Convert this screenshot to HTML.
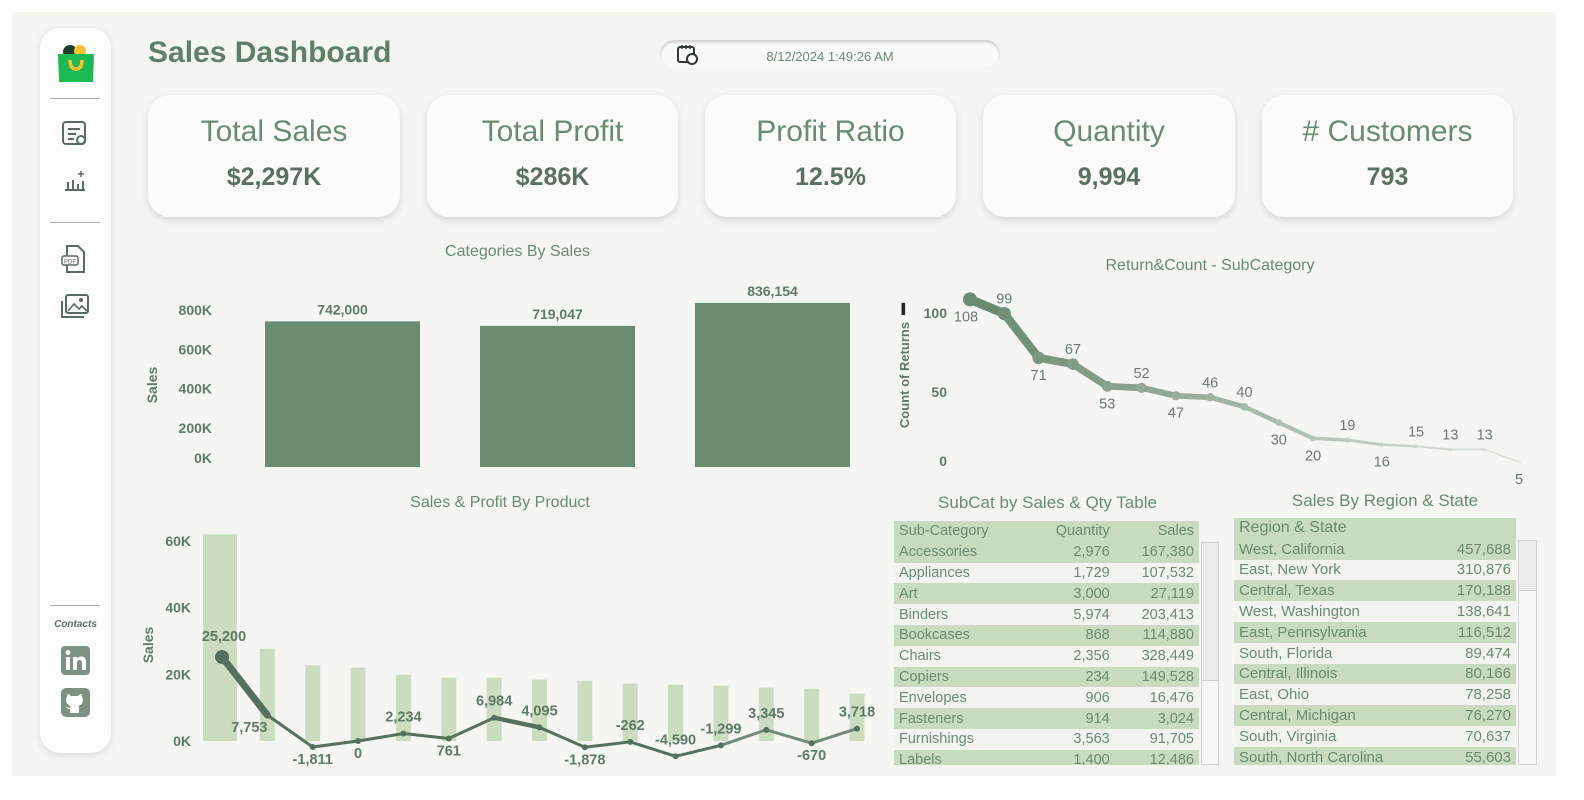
<!DOCTYPE html>
<html><head><meta charset="utf-8">
<style>
*{box-sizing:border-box;margin:0;padding:0}
body{width:1584px;height:800px;background:#fff;font-family:"Liberation Sans",sans-serif;color:#5f7a66;position:relative;overflow:hidden}
#dash{position:absolute;left:12px;top:12px;width:1544px;height:764px;background:#f5f6f1}
.abs{position:absolute}
#sidebar{left:40px;top:28px;width:71px;height:725px;background:#fcfcfa;border-radius:20px;box-shadow:0 2px 8px rgba(0,0,0,.12)}
.sep{position:absolute;left:10px;width:50px;height:1px;background:#aab0aa}
.card{position:absolute;top:95px;height:122px;background:#fbfbf9;border-radius:22px;box-shadow:0 3px 8px rgba(0,0,0,.13);text-align:center}
.card .t{font-size:30px;margin-top:20px;color:#6a8a72}
.card .v{font-size:25px;font-weight:bold;margin-top:14px;color:#5b7060}
.ctitle{position:absolute;font-size:16px;color:#6a8a72;text-align:center}
table{border-collapse:collapse;font-size:14.5px;color:#6a8a72}
td{height:20.8px;padding:0 5px;white-space:nowrap}
tr.g td{background:#c9dbbe}
tr.w td{background:#f3f4f0}
.r{text-align:right}
.scroll{position:absolute;background:#f7f7f5;border:1px solid #cfd2cf}
.thumb{position:absolute;left:0;right:0;top:0;background:#ececea;border-bottom:1px solid #ccc}
</style></head><body>
<div id="dash"></div>

<div id="sidebar" class="abs">
  <svg class="abs" style="left:15px;top:14px" width="42" height="42" viewBox="0 0 42 42">
    <circle cx="15" cy="10" r="7" fill="#1f3d2a"/><circle cx="25" cy="9" r="6" fill="#f2c230"/>
    <path d="M3 12 L39 12 L38 40 L4 40 Z" fill="#1db954"/>
    <path d="M15 18 Q15 27 21 27 Q27 27 27 18" stroke="#f2c230" stroke-width="3.5" fill="none"/>
  </svg>
  <div class="sep" style="top:70px"></div>
  <svg class="abs" style="left:21px;top:92px" width="28" height="28"><rect x="2" y="2" width="22" height="22" rx="3" fill="none" stroke="#5b6b60" stroke-width="2"/><path d="M7 9h12M7 14h8M7 19h6" stroke="#5b6b60" stroke-width="2"/><circle cx="20" cy="20" r="4" fill="none" stroke="#5b6b60" stroke-width="2"/></svg>
  <svg class="abs" style="left:21px;top:140px" width="28" height="28"><path d="M4 22h20M7 22v-8M12 22v-10M17 22v-6M22 22v-9" stroke="#5b6b60" stroke-width="2"/><path d="M20 3v6M17 6h6" stroke="#5b6b60" stroke-width="1.5"/></svg>
  <div class="sep" style="top:194px"></div>
  <svg class="abs" style="left:20px;top:216px" width="28" height="30"><path d="M7 2h11l6 6v20H7z" fill="none" stroke="#5b6b60" stroke-width="2"/><rect x="2" y="12" width="16" height="9" rx="2" fill="#fcfcfa" stroke="#5b6b60" stroke-width="1.5"/><text x="10" y="19.5" font-size="6" text-anchor="middle" fill="#5b6b60" font-family="Liberation Sans">PDF</text></svg>
  <svg class="abs" style="left:20px;top:265px" width="30" height="28"><rect x="6" y="2" width="22" height="18" rx="2" fill="none" stroke="#5b6b60" stroke-width="2"/><path d="M2 8v16h22" fill="none" stroke="#5b6b60" stroke-width="2"/><path d="M8 18l6-7 5 5 3-3 5 5" fill="none" stroke="#5b6b60" stroke-width="1.6"/><circle cx="21" cy="7" r="2" fill="#5b6b60"/></svg>
  <div class="sep" style="top:577px"></div>
  <div class="abs" style="left:0;width:71px;top:591px;font-size:10px;font-weight:bold;font-style:italic;text-align:center;color:#5f7065">Contacts</div>
  <svg class="abs" style="left:21px;top:618px" width="29" height="29"><rect width="29" height="29" rx="4" fill="#7f9183"/><rect x="5" y="11" width="4" height="13" fill="#fff"/><circle cx="7" cy="6.5" r="2.4" fill="#fff"/><path d="M12 11h4v2c1-2 3-2.5 4.5-2.5 3 0 4.5 2 4.5 5.5V24h-4v-7c0-2-1-3-2.5-3S16 15 16 17v7h-4z" fill="#fff"/></svg>
  <svg class="abs" style="left:21px;top:660px" width="29" height="29"><rect width="29" height="29" rx="5" fill="#7f9183"/><path d="M9 25v-4c-3 0-4-2-4-2 2 0 2 1 4 1 0-1 0-2 1-2-3-1-5-3-5-6 0-2 1-3 1-3 0-1 0-2 1-3 1 0 2 1 3 2h7c1-1 2-2 3-2 1 1 1 2 1 3 0 0 1 1 1 3 0 3-2 5-5 6 1 0 1 1 1 3v4z" fill="#fff"/></svg>
</div>

<div class="abs" style="left:148px;top:36px;font-size:30px;font-weight:bold;color:#5f7f68">Sales Dashboard</div>

<div class="abs" style="left:660px;top:40px;width:340px;height:28px;background:#fafaf8;border-radius:14px;box-shadow:inset 0 2px 3px rgba(0,0,0,.2)">
  <svg class="abs" style="left:16px;top:3px" width="22" height="22"><rect x="2" y="4" width="16" height="15" rx="2" fill="none" stroke="#2e3b32" stroke-width="2"/><path d="M6 2v4M10 2v4M14 2v4" stroke="#2e3b32" stroke-width="1.5"/><circle cx="16" cy="16" r="5" fill="#fafaf8" stroke="#2e3b32" stroke-width="2"/></svg>
  <div class="abs" style="left:0;width:340px;top:9px;text-align:center;font-size:13px;color:#6a8a72">8/12/2024 1:49:26 AM</div>
</div>

<div class="card" style="left:148px;width:252px"><div class="t">Total Sales</div><div class="v">$2,297K</div></div>
<div class="card" style="left:427px;width:251px"><div class="t">Total Profit</div><div class="v">$286K</div></div>
<div class="card" style="left:705px;width:251px"><div class="t">Profit Ratio</div><div class="v">12.5%</div></div>
<div class="card" style="left:983px;width:252px"><div class="t">Quantity</div><div class="v">9,994</div></div>
<div class="card" style="left:1262px;width:251px"><div class="t"># Customers</div><div class="v">793</div></div>

<svg id="charts" class="abs" style="left:0;top:0" width="1584" height="800"></svg>

<div class="ctitle" style="left:380px;width:275px;top:243px">Categories By Sales</div>
<div class="ctitle" style="left:1060px;width:300px;top:257px">Return&amp;Count - SubCategory</div>
<div class="ctitle" style="left:360px;width:280px;top:494px">Sales &amp; Profit By Product</div>
<div class="ctitle" style="left:900px;width:295px;top:493px;font-size:17px">SubCat by Sales &amp; Qty Table</div>
<div class="ctitle" style="left:1240px;width:290px;top:491px;font-size:17px">Sales By Region &amp; State</div>

<div class="abs" style="left:894px;top:521px;width:305px;height:244px;overflow:hidden">
<table style="width:305px">
<tr class="g"><td>Sub-Category</td><td class="r">Quantity</td><td class="r">Sales</td></tr>
<tr class="g"><td>Accessories</td><td class="r">2,976</td><td class="r">167,380</td></tr>
<tr class="w"><td>Appliances</td><td class="r">1,729</td><td class="r">107,532</td></tr>
<tr class="g"><td>Art</td><td class="r">3,000</td><td class="r">27,119</td></tr>
<tr class="w"><td>Binders</td><td class="r">5,974</td><td class="r">203,413</td></tr>
<tr class="g"><td>Bookcases</td><td class="r">868</td><td class="r">114,880</td></tr>
<tr class="w"><td>Chairs</td><td class="r">2,356</td><td class="r">328,449</td></tr>
<tr class="g"><td>Copiers</td><td class="r">234</td><td class="r">149,528</td></tr>
<tr class="w"><td>Envelopes</td><td class="r">906</td><td class="r">16,476</td></tr>
<tr class="g"><td>Fasteners</td><td class="r">914</td><td class="r">3,024</td></tr>
<tr class="w"><td>Furnishings</td><td class="r">3,563</td><td class="r">91,705</td></tr>
<tr class="g"><td>Labels</td><td class="r">1,400</td><td class="r">12,486</td></tr>
</table></div>
<div class="scroll" style="left:1201px;top:542px;width:18px;height:223px"><div class="thumb" style="height:138px"></div></div>

<div class="abs" style="left:1234px;top:518px;width:282px;height:247px;overflow:hidden">
<table style="width:282px;font-size:15px">
<tr class="g"><td style="font-size:16px">Region &amp; State</td><td></td></tr>
<tr class="g"><td>West, California</td><td class="r">457,688</td></tr>
<tr class="w"><td>East, New York</td><td class="r">310,876</td></tr>
<tr class="g"><td>Central, Texas</td><td class="r">170,188</td></tr>
<tr class="w"><td>West, Washington</td><td class="r">138,641</td></tr>
<tr class="g"><td>East, Pennsylvania</td><td class="r">116,512</td></tr>
<tr class="w"><td>South, Florida</td><td class="r">89,474</td></tr>
<tr class="g"><td>Central, Illinois</td><td class="r">80,166</td></tr>
<tr class="w"><td>East, Ohio</td><td class="r">78,258</td></tr>
<tr class="g"><td>Central, Michigan</td><td class="r">76,270</td></tr>
<tr class="w"><td>South, Virginia</td><td class="r">70,637</td></tr>
<tr class="g"><td>South, North Carolina</td><td class="r">55,603</td></tr>
</table></div>
<div class="scroll" style="left:1518px;top:540px;width:19px;height:225px"><div class="thumb" style="height:50px"></div></div>

<script>
// ---- Categories By Sales ----
const catNames = ["Furniture","Office Supplies","Technology"];
const catSales = [742000, 719047, 836154];
const catTicks = [0, 200000, 400000, 600000, 800000];
const catTickLabels = ["0K","200K","400K","600K","800K"];
// ---- Returns by SubCategory ----
const retValues = [108,99,71,67,53,52,47,46,40,30,20,19,16,15,13,13,5];
const retTicks = [0,50,100];
// ---- Sales & Profit By Product ----
const prodSales = [62000,27700,22700,22000,19900,19000,19000,18400,18100,17200,16900,16600,16000,15700,14200];
const prodProfit = [25200,7753,-1811,0,2234,761,6984,4095,-1878,-262,-4590,-1299,3345,-670,3718];
const prodTicks = [0,20000,40000,60000];
const prodTickLabels = ["0K","20K","40K","60K"];

const NS="http://www.w3.org/2000/svg";
const svg=document.getElementById('charts');
function mk(tag,attrs,parent){const e=document.createElementNS(NS,tag);for(const k in attrs)e.setAttribute(k,attrs[k]);(parent||svg).appendChild(e);return e;}
function txt(x,y,s,attrs){const e=mk('text',Object.assign({x:x,y:y,'font-family':'Liberation Sans, sans-serif',fill:'#5f7a66'},attrs||{}));e.textContent=s;return e;}

// Categories chart
(function(){
  const y0=467, pxPer=157/800000;
  const ys=v=>y0-v*pxPer;
  const left=235, bandW=(880-left)/catSales.length;
  const xs=i=>left+bandW*i+bandW/2;
  const g=mk('g',{});
  
  
  catTicks.forEach((t,i)=>{
    const yy=Math.min(ys(t)+5,y0-4);
    const e=txt(212,yy,catTickLabels[i],{'text-anchor':'end','font-size':'14','font-weight':'bold'});
    
    
  });
  const yt=txt(157,385,'Sales',{'font-size':'14','font-weight':'bold',transform:'rotate(-90 157 385)','text-anchor':'middle'});
  
  
  catSales.forEach((v,i)=>{
    const w=155;
    const r=mk('rect',{x:xs(i)-w/2,y:ys(v),width:w,height:v*pxPer,fill:'#6a8a72'},g);
    
    
    const l=txt(xs(i),ys(v)-7,v.toLocaleString('en-US'),{'text-anchor':'middle','font-size':'14','font-weight':'bold'});
    
    
  });
})();

// Returns chart
(function(){
  const y0=470, pxPer=1.58;
  const ys=v=>y0-v*pxPer;
  const x0=970, step=(1519-970)/(retValues.length-1);
  const xs=i=>x0+i*step;
  retTicks.forEach(t=>{
    const yy=Math.min(ys(t)+6,y0-4);
    const e=txt(947,yy,String(t),{'text-anchor':'end','font-size':'14','font-weight':'bold'});
    
    
  });
  const yt=txt(909,375,'Count of Returns',{'font-size':'13','font-weight':'bold',transform:'rotate(-90 909 375)','text-anchor':'middle'});
  
  
  const n=retValues.length;
  function col(i){const a=[106,138,114],b=[232,234,228];const t=i/(n-1);return 'rgb('+a.map((c,k)=>Math.round(c+(b[k]-c)*t)).join(',')+')';}
  for(let i=0;i<n-1;i++){
    const s=mk('line',{x1:xs(i),y1:ys(retValues[i]),x2:xs(i+1),y2:ys(retValues[i+1]),stroke:col(i),'stroke-width':Math.max(2,9-i*0.55),'stroke-linecap':'round'});
    
    
  }
  retValues.forEach((v,i)=>{
    const c=mk('circle',{cx:xs(i),cy:ys(v),r:Math.max(2,7-i*0.4),fill:col(i)});
    
    
    const above=[false,true,false,true,false,true,false,true,true,false,false,true,false,true,true,true,false][i];
    const yy=above?ys(v)-10:ys(v)+22;
    const xx=i===0?xs(i)-4:xs(i);
    const l=txt(xx,yy,String(v),{'text-anchor':'middle','font-size':'14.5',fill:'#6b7a70'});
    
    
  });
  const ic=txt(898,312,'\u2590',{'font-size':'10',fill:'#222'});
  
  
})();

// Product chart
(function(){
  const y0=741, pxPer=200/60000;
  const ys=v=>y0-v*pxPer;
  const x0=222, step=(857-222)/(prodSales.length-1);
  const xs=i=>x0+i*step;
  prodTicks.forEach((t,i)=>{
    const e=txt(191,ys(t)+5,prodTickLabels[i],{'text-anchor':'end','font-size':'14','font-weight':'bold'});
    
    
  });
  const yt=txt(153,645,'Sales',{'font-size':'14','font-weight':'bold',transform:'rotate(-90 153 645)','text-anchor':'middle'});
  
  
  prodSales.forEach((v,i)=>{
    const w=i===0?34:15;
    const r=mk('rect',{x:xs(i)-w/2+(i===0?-2:0),y:ys(v),width:w,height:v*pxPer,fill:'#cbdcc0'});
    
    
  });
  for(let i=0;i<prodProfit.length-1;i++){
    const w=i===0?7:(i===6?4.5:3);
    const s=mk('line',{x1:xs(i),y1:ys(prodProfit[i]),x2:xs(i+1),y2:ys(prodProfit[i+1]),stroke:i>=11?'#748a79':'#56705d','stroke-width':w,'stroke-linecap':'round'});
    
    
  }
  const above=[true,false,false,false,true,false,true,true,false,true,true,true,true,false,true];
  prodProfit.forEach((v,i)=>{
    const c=mk('circle',{cx:xs(i),cy:ys(v),r:i===0?7:3,fill:'#56705d'});
    
    
    const yy=above[i]?ys(v)-12:ys(v)+17;
    const dx=i===0?2:(i===1?-18:0);
    const l=txt(xs(i)+dx,i===0?ys(v)-16:yy,v.toLocaleString('en-US'),{'text-anchor':'middle','font-size':'14.5','font-weight':'bold'});
    
    
  });
})();
</script>
</body></html>
